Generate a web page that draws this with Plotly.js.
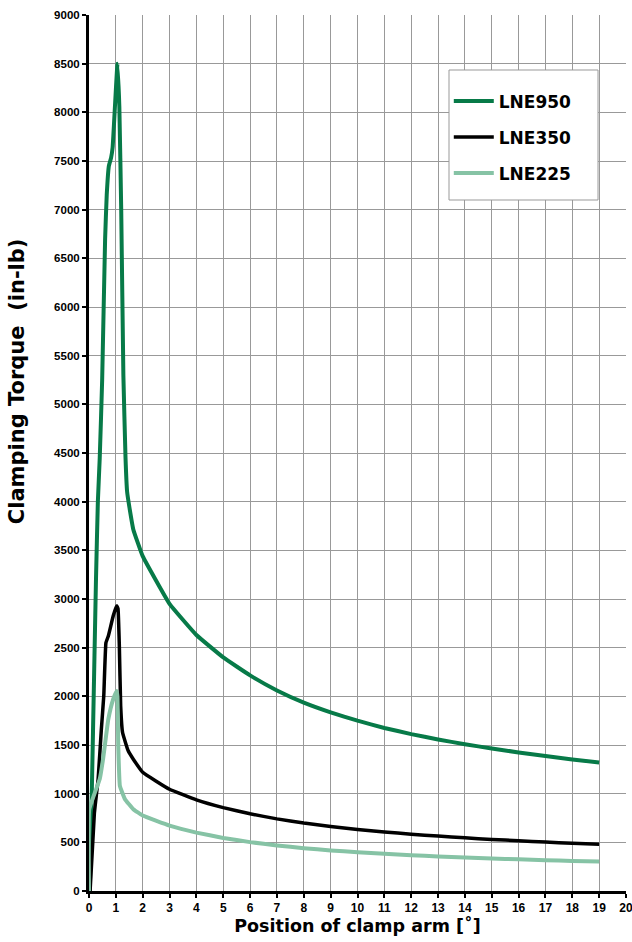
<!DOCTYPE html>
<html><head><meta charset="utf-8">
<script src="https://cdn.plot.ly/plotly-3.0.1.min.js"></script>
<style>html,body{margin:0;padding:0;background:#fff}</style>
</head><body><div id="chart" style="width:632px;height:942px"></div>
<script>
// Position of clamp arm (degrees) and clamping torque (in-lb)
const lne950X = [0.03, 0.15, 0.26, 0.33, 0.40, 0.49, 0.60, 0.66, 0.74, 0.82, 0.88, 1.06, 1.13, 1.20, 1.28, 1.36, 1.42, 1.50, 1.65, 2, 3, 4, 5, 6, 7, 8, 9, 10, 11, 12, 13, 14, 15, 16, 17, 18, 19];
const lne950Y = [0, 1650, 3200, 4000, 4450, 5250, 6700, 7150, 7450, 7530, 7640, 8500, 8060, 7000, 5300, 4450, 4100, 3950, 3715, 3440, 2950, 2630, 2400, 2215, 2060, 1935, 1835, 1750, 1675, 1612, 1557, 1508, 1464, 1424, 1387, 1352, 1320];

const lne350X = [0.04, 0.20, 0.34, 0.46, 0.55, 0.63, 0.72, 0.90, 1.03, 1.08, 1.13, 1.18, 1.25, 1.46, 1.65, 2, 3, 4, 5, 6, 7, 8, 9, 10, 11, 12, 13, 14, 15, 16, 17, 18, 19];
const lne350Y = [0, 800, 1150, 1660, 2005, 2550, 2620, 2825, 2930, 2900, 2517, 1900, 1628, 1440, 1354, 1220, 1045, 937, 857, 793, 741, 698, 663, 633, 607, 584, 564, 546, 530, 516, 503, 491, 480];

const lne225X = [0, 0.01, 0.40, 0.53, 0.72, 0.90, 1.03, 1.06, 1.09, 1.15, 1.34, 1.65, 2, 3, 4, 5, 6, 7, 8, 9, 10, 11, 12, 13, 14, 15, 16, 17, 18, 19];
const lne225Y = [0, 840, 1150, 1368, 1765, 1970, 2055, 2000, 1490, 1080, 943, 840, 775, 672, 600, 545, 502, 468, 440, 417, 398, 382, 368, 355, 344, 334, 325, 317, 309, 302];

const seriesNames = ['LNE950', 'LNE350', 'LNE225'];
const xTickVals = [0,1,2,3,4,5,6,7,8,9,10,11,12,13,14,15,16,17,18,19,20];
const yTickVals = [0,500,1000,1500,2000,2500,3000,3500,4000,4500,5000,5500,6000,6500,7000,7500,8000,8500,9000];

const colors = ['#077a48', '#000000', '#86c3a5'];
const widths = [4, 3.5, 4];
const xs = [lne950X, lne350X, lne225X];
const ys = [lne950Y, lne350Y, lne225Y];

const data = seriesNames.map((n, i) => ({
  x: xs[i], y: ys[i], name: n, type: 'scatter', mode: 'lines',
  legendgroup: n,
  line: {color: colors[i], width: widths[i], shape: 'spline', smoothing: 0.3}
}));

const xTickFont = {family: 'Liberation Sans, Arial, sans-serif', size: 12, color: '#000', weight: 'bold'};
const yTickFont = {family: 'Liberation Sans, Arial, sans-serif', size: 11.5, color: '#000', weight: 'bold'};
const xTitleFont = {family: 'DejaVu Sans, sans-serif', size: 17.5, color: '#000', weight: 'bold'};
const yTitleFont = {family: 'DejaVu Sans, sans-serif', size: 21, color: '#000', weight: 'bold'};

const layout = {
  width: 632, height: 942,
  margin: {l: 89, r: 6, t: 15, b: 51},
  paper_bgcolor: '#fff', plot_bgcolor: '#fff',
  showlegend: true,
  legend: {
    x: 0.670, xanchor: 'left', y: 0.922, yanchor: 'top',
    bgcolor: 'rgba(0,0,0,0)', borderwidth: 0,
    font: {family: 'DejaVu Sans, sans-serif', size: 17, color: '#000', weight: 'bold'},
    itemwidth: 40, traceorder: 'grouped', tracegroupgap: 11
  },
  xaxis: {
    range: [0, 20], tickvals: xTickVals, ticktext: xTickVals.map(String),
    showgrid: true, gridcolor: '#999', gridwidth: 1,
    showline: true, linecolor: '#000', linewidth: 3,
    ticks: 'outside', ticklen: 4, tickwidth: 2, tickcolor: '#000',
    tickfont: xTickFont, zeroline: false, ticklabeloverflow: 'allow',
    title: {text: 'Position of clamp arm [˚]', font: xTitleFont, standoff: 6}
  },
  yaxis: {
    range: [0, 9000], tickvals: yTickVals, ticktext: yTickVals.map(String),
    showgrid: true, gridcolor: '#999', gridwidth: 1,
    showline: true, linecolor: '#000', linewidth: 3,
    ticks: 'outside', ticklen: 4, tickwidth: 2, tickcolor: '#000',
    tickfont: yTickFont, zeroline: false, ticklabeloverflow: 'allow'
  },
  shapes: [{
    type: 'rect', xref: 'paper', yref: 'paper', layer: 'above',
    x0: 0.6704, x1: 0.9479, y0: 0.7888, y1: 0.9372,
    fillcolor: '#fff', line: {color: '#999', width: 1}
  }],
  annotations: [{
    text: 'Clamping Torque  (in-lb)', xref: 'paper', yref: 'paper',
    x: -0.134, y: 0.582, xanchor: 'center', yanchor: 'middle',
    textangle: -90, showarrow: false, font: yTitleFont
  }]
};

Plotly.newPlot('chart', data, layout, {displayModeBar: false, staticPlot: true});
</script></body></html>
